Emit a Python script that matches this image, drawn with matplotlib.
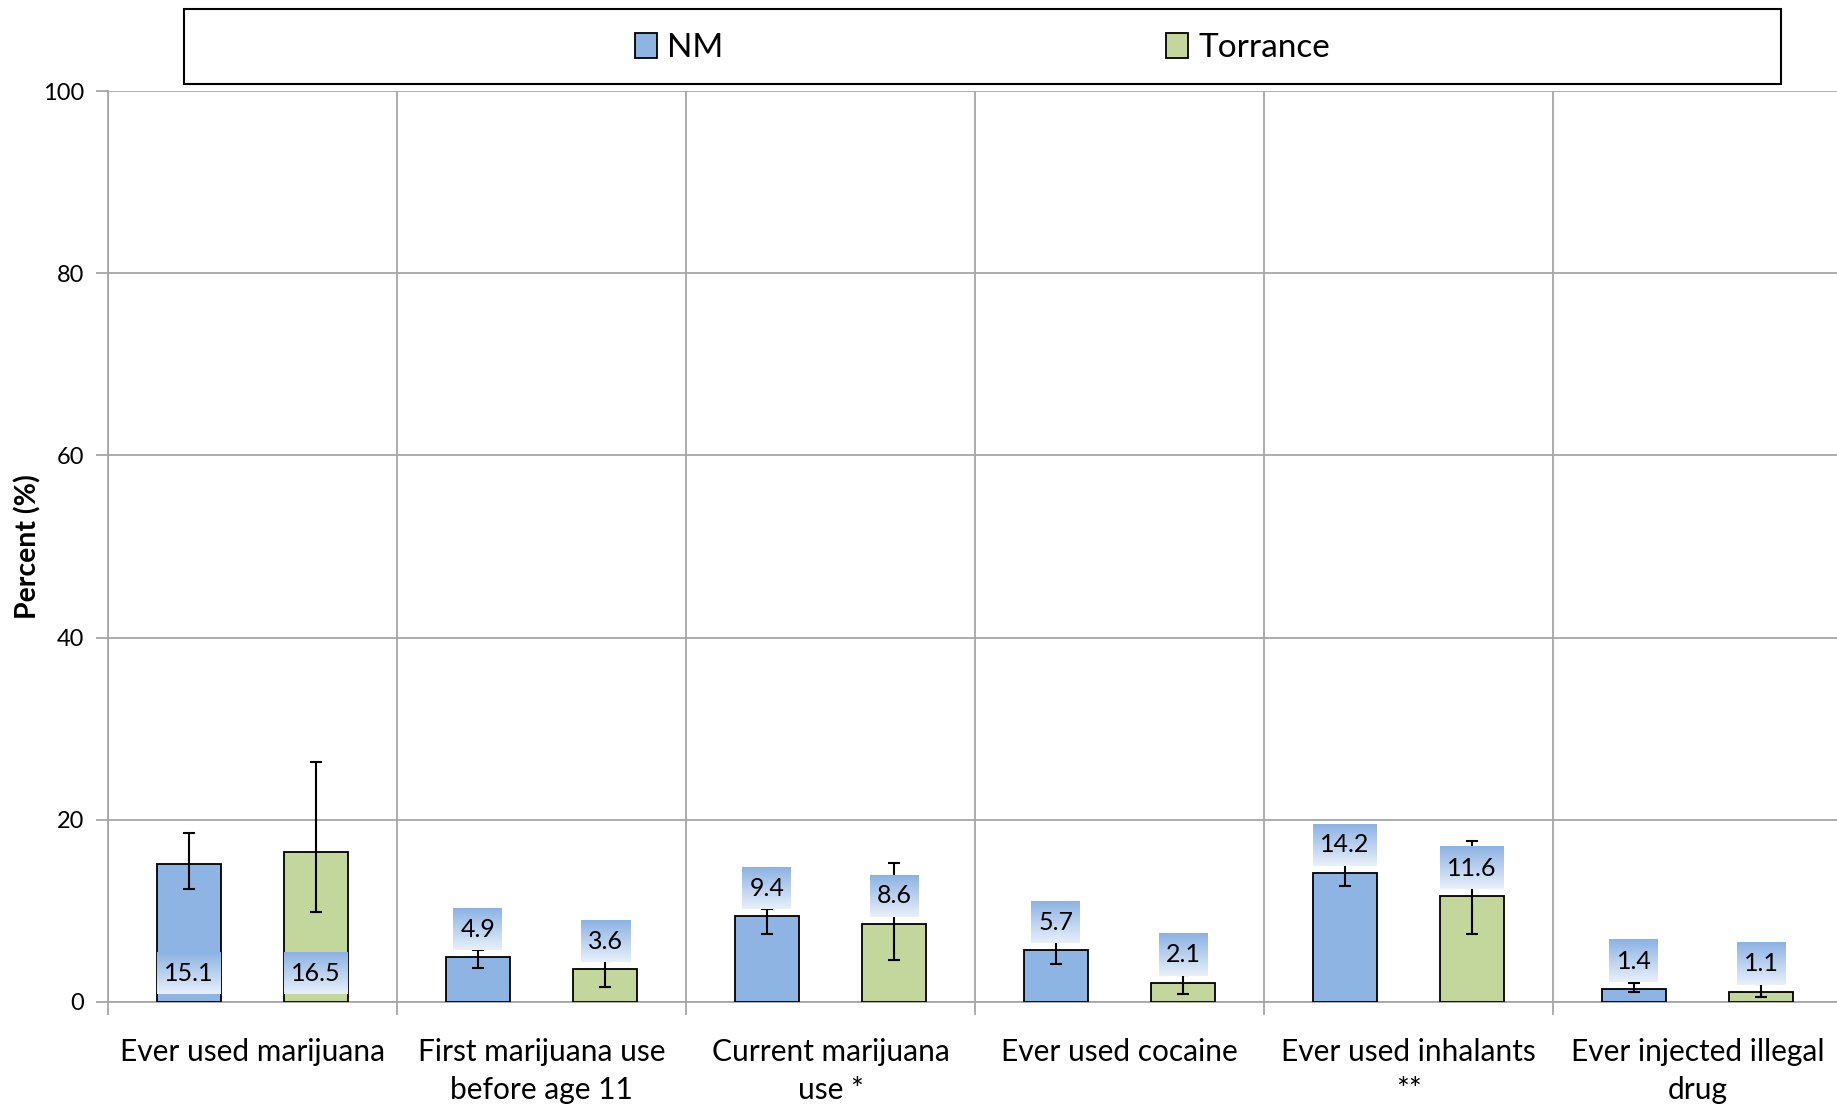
import numpy as np
import matplotlib
matplotlib.use("Agg")
import matplotlib.pyplot as plt
from matplotlib.patches import Rectangle

plt.rcParams['font.family'] = ['Lato', 'DejaVu Sans']

categories = ["Ever used marijuana", "First marijuana use\nbefore age 11",
              "Current marijuana\nuse *", "Ever used cocaine",
              "Ever used inhalants\n**", "Ever injected illegal\ndrug"]
nm_values = [15.1, 4.9, 9.4, 5.7, 14.2, 1.4]
nm_low = [12.4, 3.7, 7.5, 4.2, 12.7, 1.05]
nm_high = [18.5, 5.7, 10.2, 6.7, 15.7, 2.05]
torr_values = [16.5, 3.6, 8.6, 2.1, 11.6, 1.1]
torr_low = [9.9, 1.65, 4.6, 0.9, 7.5, 0.5]
torr_high = [26.3, 4.5, 15.3, 3.0, 17.7, 2.0]
# Excel put the first group's labels inside the base of the bar
label_pos = ["base", "top", "top", "top", "top", "top"]

nm_color = "#8db4e2"
torr_color = "#c3d69b"
grid_color = "#a6a6a6"

W, H = 1837, 1107
fig = plt.figure(figsize=(W / 100, H / 100), dpi=100)
ax = fig.add_axes([108 / W, 1 - 1002 / H, (1842 - 108) / W, (1002 - 91) / H])

x = np.arange(len(categories))
bw = 0.22
nm_err = [np.array(nm_values) - np.array(nm_low), np.array(nm_high) - np.array(nm_values)]
torr_err = [np.array(torr_values) - np.array(torr_low), np.array(torr_high) - np.array(torr_values)]

ax.bar(x - bw, nm_values, bw, color=nm_color, edgecolor="black", linewidth=1.3, zorder=3, label="NM")
ax.bar(x + bw, torr_values, bw, color=torr_color, edgecolor="black", linewidth=1.3, zorder=3, label="Torrance")
ax.errorbar(x - bw, nm_values, yerr=nm_err, fmt="none", ecolor="black", elinewidth=1.5, capsize=4, capthick=1.5, zorder=4)
ax.errorbar(x + bw, torr_values, yerr=torr_err, fmt="none", ecolor="black", elinewidth=1.5, capsize=4, capthick=1.5, zorder=4)

ax.set_xlim(-0.5, len(categories) - 0.5)
ax.set_ylim(0, 100)
ax.set_yticks(np.arange(0, 101, 20))
ax.set_xticks(np.arange(-0.5, len(categories), 1.0))
ax.set_xticklabels([])
ax.set_xticks(x, minor=True)
ax.set_xticklabels(categories, minor=True, fontsize=21.5, linespacing=1.45)
ax.tick_params(axis="x", which="minor", length=0, pad=26)
ax.tick_params(axis="x", which="major", length=9, color=grid_color, width=1.3)
ax.tick_params(axis="y", length=9, color=grid_color, width=1.3, labelsize=17, pad=8)
ax.grid(True, which="major", color=grid_color, linewidth=1.3, zorder=0)
ax.set_axisbelow(True)
for s in ["top", "right"]:
    ax.spines[s].set_visible(False)
for s in ["left", "bottom"]:
    ax.spines[s].set_color(grid_color)
    ax.spines[s].set_linewidth(1.3)
ax.set_ylabel("Percent (%)", fontsize=20.5, fontweight="bold", labelpad=1)

# data labels with gradient boxes
fig.canvas.draw()
renderer = fig.canvas.get_renderer()
inv = ax.transData.inverted()
grad = np.linspace(0, 1, 64)[:, None, None]
top_c = np.array([0.55, 0.70, 0.89])
bot_c = np.array([0.91, 0.94, 0.98])
grad_img = top_c * (1 - grad) + bot_c * grad
box_h = 42
for vals, offs in [(nm_values, -bw), (torr_values, bw)]:
    for i, v in enumerate(vals):
        px, py = ax.transData.transform((i + offs, v))
        _, py0 = ax.transData.transform((i + offs, 0))
        if label_pos[i] == "base":
            yb = py0 + 8
        else:
            yb = py + 7
        cy = yb + box_h / 2
        _, cyd = inv.transform((px, cy))
        t = ax.text(i + offs, cyd, f"{v:.1f}", ha="center", va="center", fontsize=18, zorder=6)
        bb = t.get_window_extent(renderer)
        half = bb.width / 2 + 7
        (x0, y0) = inv.transform((px - half, yb))
        (x1, y1) = inv.transform((px + half, yb + box_h))
        ax.imshow(grad_img, extent=(x0, x1, y0, y1), aspect="auto", zorder=5, interpolation="bilinear")

ax.set_xlim(-0.5, len(categories) - 0.5)
ax.set_ylim(0, 100)

# legend in a framed box above the plot
fig.patches.append(Rectangle((184 / W, 1 - 84 / H), (1781 - 184) / W, (84 - 9) / H,
                             transform=fig.transFigure, facecolor="white", edgecolor="black", linewidth=1.5))
handles, labels = ax.get_legend_handles_labels()
fig.legend(handles, labels, loc="center", bbox_to_anchor=((184 + 1781) / 2 / W, 1 - 48 / H),
           ncol=2, frameon=False, fontsize=24, handlelength=0.65, handleheight=0.75,
           handletextpad=0.3, columnspacing=13.3)

fig.savefig("out.png", dpi=100)
